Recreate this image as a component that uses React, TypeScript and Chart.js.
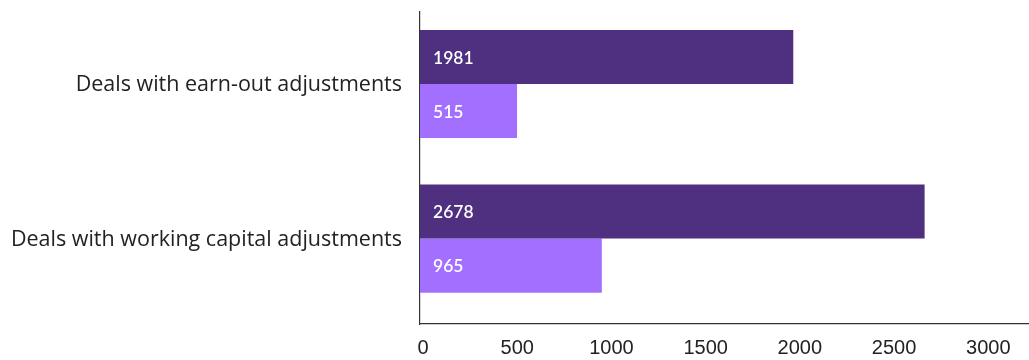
import React, { useEffect, useRef } from 'react';
import { Chart, registerables } from 'chart.js';

Chart.register(...registerables);

const categories = ['Deals with earn-out adjustments', 'Deals with working capital adjustments'];
const seriesDark = [1981, 2678];
const seriesLight = [515, 965];
const xTickValues = [0, 500, 1000, 1500, 2000, 2500, 3000];

const DARK = '#4F2F7F';
const LIGHT = '#A26FFF';

export default function App() {
  const ref = useRef<HTMLCanvasElement>(null);

  useEffect(() => {
    if (!ref.current) return;
    const valueLabels = {
      id: 'valueLabels',
      afterDatasetsDraw(chart: any) {
        const ctx = chart.ctx;
        ctx.save();
        ctx.fillStyle = '#ffffff';
        ctx.font = '600 17.5px Lato';
        ctx.textBaseline = 'middle';
        ctx.textAlign = 'left';
        const sources = [seriesDark, seriesLight];
        chart.data.datasets.forEach((_ds: any, i: number) => {
          chart.getDatasetMeta(i).data.forEach((el: any, j: number) => {
            const p = el.getProps(['base', 'y'], true);
            ctx.fillText(String(sources[i][j]), p.base + 13, p.y + 1);
          });
        });
        ctx.restore();
      },
    };

    const chart = new Chart(ref.current, {
      type: 'bar',
      data: {
        datasets: [
          {
            label: 'A',
            data: seriesDark.map((v, i) => ({ x: v, y: i })),
            backgroundColor: DARK,
            categoryPercentage: 0.7,
            barPercentage: 1,
          },
          {
            label: 'B',
            data: seriesLight.map((v, i) => ({ x: v, y: i })),
            backgroundColor: LIGHT,
            categoryPercentage: 0.7,
            barPercentage: 1,
          },
        ],
      } as any,
      options: {
        indexAxis: 'y',
        animation: false,
        responsive: true,
        maintainAspectRatio: false,
        layout: { padding: { top: 12, left: 0, right: 0, bottom: 0 } },
        plugins: {
          legend: { display: false },
          tooltip: { enabled: false },
        },
        scales: {
          x: {
            type: 'linear',
            min: 0,
            max: 3232,
            offset: false,
            afterBuildTicks: (s: any) => {
              s.ticks = xTickValues.map((v) => ({ value: v }));
            },
            afterFit: (s: any) => {
              s.height = 36;
              s.paddingLeft = 0;
              s.paddingRight = 0;
            },
            grid: { display: false, drawTicks: false, offset: false },
            border: { display: true, color: '#333333', width: 1.2 },
            ticks: {
              padding: 12,
              labelOffset: 3,
              color: '#222222',
              font: { family: 'Liberation Sans', size: 20 },
              maxRotation: 0,
              callback: (v: any) => String(v),
            },
          },
          y: {
            type: 'linear',
            min: -0.466,
            max: 1.553,
            reverse: true,
            offset: false,
            afterBuildTicks: (s: any) => {
              s.ticks = categories.map((_c, i) => ({ value: i }));
            },
            afterFit: (s: any) => {
              s.width = 420;
              s.paddingTop = 0;
              s.paddingBottom = 0;
            },
            grid: { display: false, drawTicks: false, offset: false },
            border: { display: true, color: '#333333', width: 1.2 },
            ticks: {
              padding: 18,
              labelOffset: 1,
              color: '#222222',
              font: { family: 'Open Sans', size: 21.5 },
              callback: (v: any) => categories[v] ?? '',
            },
          },
        },
      } as any,
      plugins: [valueLabels],
    });

    return () => chart.destroy();
  }, []);

  return (
    <div style={{ position: 'fixed', left: 0, top: 0, width: 1029, height: 360, background: '#ffffff' }}>
      <canvas ref={ref} />
    </div>
  );
}
